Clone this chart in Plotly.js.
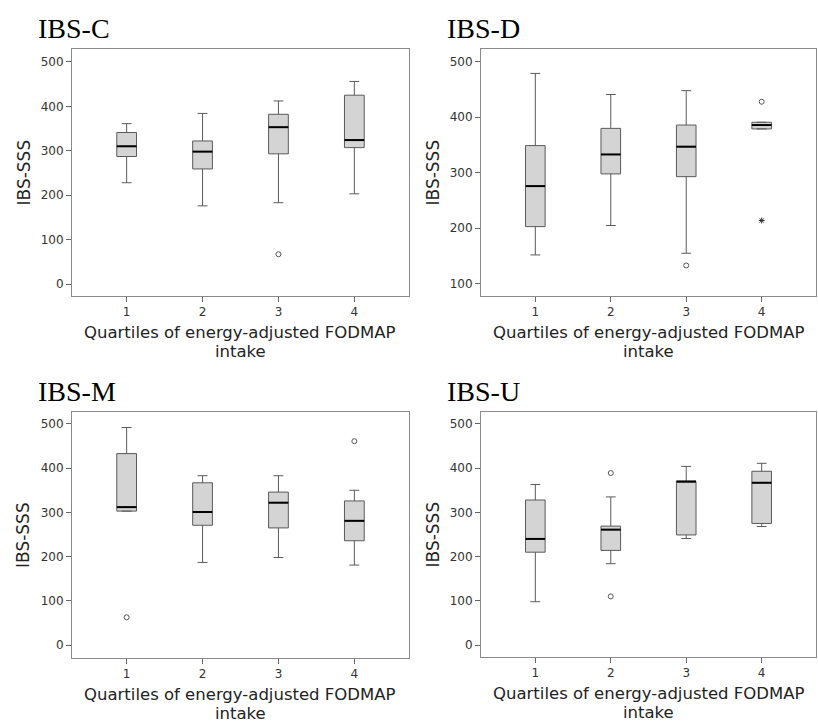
<!DOCTYPE html>
<html>
<head>
<meta charset="utf-8">
<script src="https://cdn.plot.ly/plotly-3.0.1.min.js"></script>
<style>html,body{margin:0;padding:0;background:#fff;}#chart{width:818px;height:724px;}</style>
</head>
<body>
<div id="chart"></div>
<script>
// ---- data ----
const quartiles = [1, 2, 3, 4];
const panelNames = ["IBS-C", "IBS-D", "IBS-M", "IBS-U"];

// IBS-C
const cQ1  = [287, 259, 293, 307];
const cMed = [310, 298, 353, 324];
const cQ3  = [341, 322, 382, 425];
const cLo  = [228, 176, 183, 203];
const cHi  = [361, 384, 412, 456];
const cOutX = [3];
const cOutY = [67];
const cExtX = [];
const cExtY = [];

// IBS-D
const dQ1  = [203, 298, 293, 379];
const dMed = [276, 333, 347, 386];
const dQ3  = [349, 380, 386, 391];
const dLo  = [152, 205, 155, 379];
const dHi  = [479, 441, 448, 391];
const dOutX = [3, 4];
const dOutY = [133, 428];
const dExtX = [4];
const dExtY = [214];

// IBS-M
const mQ1  = [303, 271, 265, 236];
const mMed = [312, 301, 322, 281];
const mQ3  = [433, 367, 346, 326];
const mLo  = [303, 187, 198, 181];
const mHi  = [492, 383, 383, 350];
const mOutX = [1, 4];
const mOutY = [63, 461];
const mExtX = [];
const mExtY = [];

// IBS-U
const uQ1  = [210, 214, 249, 275];
const uMed = [240, 261, 370, 367];
const uQ3  = [328, 269, 370, 393];
const uLo  = [98, 184, 241, 268];
const uHi  = [363, 335, 404, 411];
const uOutX = [2, 2];
const uOutY = [389, 110];
const uExtX = [];
const uExtY = [];

const yTickVals = [0, 100, 200, 300, 400, 500];
const xTitleLines = ["Quartiles of energy-adjusted FODMAP", "intake"];
const yTitle = "IBS-SSS";

// ---- style ----
const W = 818, H = 724;
const boxW = 0.26;
const panels = [
  {q1:cQ1, med:cMed, q3:cQ3, lo:cLo, hi:cHi, ox:cOutX, oy:cOutY, ex:cExtX, ey:cExtY,
   px:[72,409], py:[49,296], yr:[-27,529]},
  {q1:dQ1, med:dMed, q3:dQ3, lo:dLo, hi:dHi, ox:dOutX, oy:dOutY, ex:dExtX, ey:dExtY,
   px:[481,816], py:[49,296], yr:[78,523]},
  {q1:mQ1, med:mMed, q3:mQ3, lo:mLo, hi:mHi, ox:mOutX, oy:mOutY, ex:mExtX, ey:mExtY,
   px:[72,409], py:[412,658], yr:[-29,527]},
  {q1:uQ1, med:uMed, q3:uQ3, lo:uLo, hi:uHi, ox:uOutX, oy:uOutY, ex:uExtX, ey:uExtY,
   px:[481,816], py:[412,657], yr:[-27,527]}
];

const traces = [];
const layout = {
  width: W, height: H,
  margin: {l:0, r:0, t:0, b:0},
  paper_bgcolor: "#fff", plot_bgcolor: "#fff",
  showlegend: false,
  font: {family: "DejaVu Sans, sans-serif", size: 12, color: "#333"},
  annotations: []
};

panels.forEach((p, i) => {
  const n = i === 0 ? "" : String(i + 1);
  const xa = "x" + n, ya = "y" + n;
  traces.push({
    type: "box", xaxis: xa, yaxis: ya,
    x: quartiles, q1: p.q1, median: p.med, q3: p.q3,
    lowerfence: p.lo, upperfence: p.hi,
    boxpoints: false, width: boxW, whiskerwidth: 0.5,
    fillcolor: "#d4d4d4",
    line: {color: "#5a5a5a", width: 1},
    hoverinfo: "skip"
  });
  // median lines (thick black) from the median array
  const mx = [], my = [];
  quartiles.forEach((q, k) => {
    mx.push(q - boxW / 2, q + boxW / 2, null);
    my.push(p.med[k], p.med[k], null);
  });
  traces.push({
    type: "scatter", mode: "lines", xaxis: xa, yaxis: ya,
    x: mx, y: my, line: {color: "#000", width: 2}, hoverinfo: "skip"
  });
  if (p.ox.length) traces.push({
    type: "scatter", mode: "markers", xaxis: xa, yaxis: ya,
    x: p.ox, y: p.oy,
    marker: {symbol: "circle-open", size: 5, color: "#555", line: {width: 1, color: "#555"}},
    hoverinfo: "skip"
  });
  if (p.ex.length) traces.push({
    type: "scatter", mode: "markers", xaxis: xa, yaxis: ya,
    x: p.ex, y: p.ey,
    marker: {symbol: "asterisk-open", size: 5, color: "#333", line: {width: 1, color: "#333"}},
    hoverinfo: "skip"
  });

  const axBase = {
    showline: true, mirror: true, linecolor: "#8a8a8a", linewidth: 1,
    showgrid: false, zeroline: false,
    ticks: "outside", ticklen: 5, tickcolor: "#666", tickwidth: 1,
    tickfont: {family: "DejaVu Sans, sans-serif", size: 12, color: "#333"},
    fixedrange: true
  };
  layout["xaxis" + n] = Object.assign({}, axBase, {
    domain: [p.px[0] / W, p.px[1] / W],
    anchor: ya, range: [0.28, 4.72],
    tickvals: quartiles, ticktext: quartiles.map(String)
  });
  layout["yaxis" + n] = Object.assign({}, axBase, {
    domain: [1 - p.py[1] / H, 1 - p.py[0] / H],
    anchor: xa, range: p.yr,
    tickvals: yTickVals, ticktext: yTickVals.map(String)
  });

  // panel title
  layout.annotations.push({
    text: panelNames[i], xref: "paper", yref: "paper",
    x: (p.px[0] - 36) / W, y: 1 - (p.py[0] - 20) / H,
    xanchor: "left", yanchor: "middle", showarrow: false,
    font: {family: "Liberation Serif, Times New Roman, serif", size: 28, color: "#000"}
  });
  // x axis title (two lines)
  xTitleLines.forEach((t, j) => {
    layout.annotations.push({
      text: t, xref: "paper", yref: "paper",
      x: (p.px[0] + p.px[1]) / 2 / W, y: 1 - (p.py[1] + 36 + 19 * j) / H,
      xanchor: "center", yanchor: "middle", showarrow: false,
      font: {family: "DejaVu Sans, sans-serif", size: 16.5, color: "#222"}
    });
  });
  // y axis title
  layout.annotations.push({
    text: yTitle, xref: "paper", yref: "paper", textangle: -90,
    x: (p.px[0] - 49) / W, y: 1 - (p.py[0] + p.py[1]) / 2 / H,
    xanchor: "center", yanchor: "middle", showarrow: false,
    font: {family: "DejaVu Sans, sans-serif", size: 17, color: "#222"}
  });
});

Plotly.newPlot("chart", traces, layout, {displayModeBar: false, staticPlot: true});
</script>
</body>
</html>
